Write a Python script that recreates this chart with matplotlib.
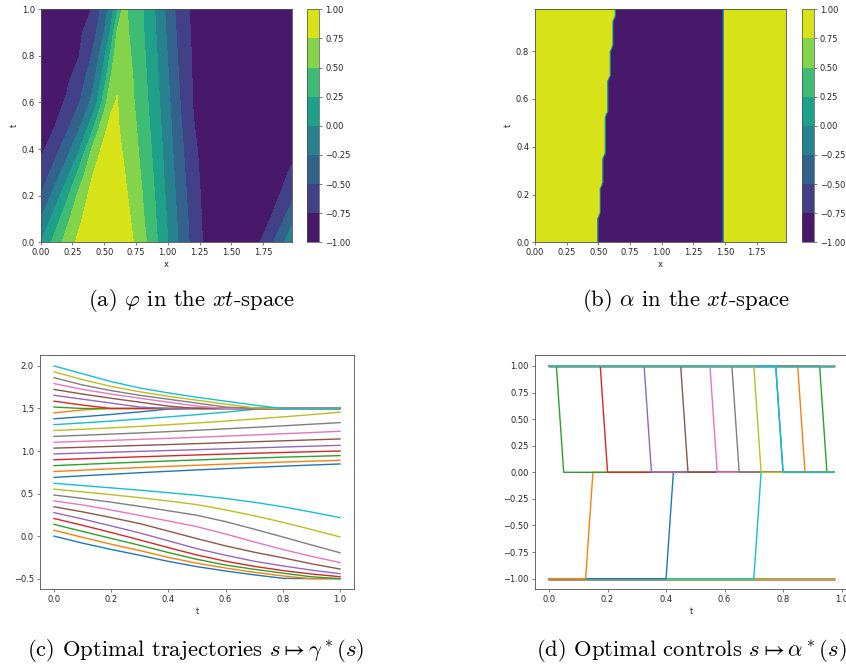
import numpy as np
import matplotlib
matplotlib.use('Agg')
from matplotlib import pyplot as plt

plt.rcParams['mathtext.fontset'] = 'cm'
plt.rcParams['font.size'] = 6
plt.rcParams['axes.linewidth'] = 0.6
plt.rcParams['axes.edgecolor'] = '0.3'
for ax_name in ('xtick', 'ytick'):
    plt.rcParams[ax_name + '.major.size'] = 2.2
    plt.rcParams[ax_name + '.major.width'] = 0.5
    plt.rcParams[ax_name + '.major.pad'] = 2
    plt.rcParams[ax_name + '.color'] = '0.3'
    plt.rcParams[ax_name + '.labelcolor'] = '0.15'
plt.rcParams['axes.labelpad'] = 2
plt.rcParams['axes.labelcolor'] = '0.15'

# ---- (a) phi over the xt-space on a coarse grid ----
phi_x = [0.0, 0.1, 0.2, 0.3, 0.4, 0.45, 0.5, 0.55, 0.6, 0.65, 0.7, 0.75, 0.8,
         0.9, 1.0, 1.1, 1.2, 1.3, 1.4, 1.5, 1.6, 1.7, 1.8, 1.9, 2.0]
phi_t = [0.0, 0.1, 0.2, 0.3, 0.4, 0.5, 0.6, 0.7, 0.8, 0.9, 1.0]
phi_values = [
    [0.0, 0.309, 0.588, 0.809, 0.951, 0.988, 1.0, 0.988, 0.951, 0.891, 0.809, 0.707, 0.588,
     0.309, 0.0, -0.309, -0.588, -0.809, -0.951, -1.0, -0.951, -0.809, -0.588, -0.309, 0.0],
    [-0.25, 0.071, 0.417, 0.697, 0.896, 0.948, 0.969, 0.961, 0.924, 0.859, 0.765, 0.652, 0.539,
     0.274, -0.031, -0.338, -0.61, -0.825, -0.948, -0.999, -0.981, -0.902, -0.764, -0.541, -0.25],
    [-0.5, -0.183, 0.173, 0.563, 0.829, 0.896, 0.927, 0.924, 0.887, 0.817, 0.716, 0.609, 0.502,
     0.241, -0.066, -0.371, -0.641, -0.834, -0.94, -0.993, -0.994, -0.95, -0.862, -0.719, -0.5],
    [-0.663, -0.431, -0.125, 0.3, 0.714, 0.825, 0.879, 0.888, 0.853, 0.773, 0.672, 0.572, 0.465,
     0.208, -0.097, -0.404, -0.673, -0.84, -0.934, -0.987, -1.0, -0.976, -0.918, -0.826, -0.663],
    [-0.806, -0.625, -0.368, -0.038, 0.5, 0.692, 0.815, 0.85, 0.818, 0.727, 0.633, 0.538, 0.429,
     0.176, -0.13, -0.439, -0.706, -0.84, -0.923, -0.975, -0.999, -0.993, -0.959, -0.897, -0.806],
    [-0.866, -0.776, -0.58, -0.309, 0.111, 0.429, 0.682, 0.805, 0.781, 0.687, 0.597, 0.507, 0.395,
     0.144, -0.161, -0.472, -0.739, -0.844, -0.919, -0.969, -0.996, -0.998, -0.977, -0.933, -0.866],
    [-0.904, -0.832, -0.729, -0.521, -0.205, 0.036, 0.393, 0.7, 0.765, 0.651, 0.565, 0.474, 0.364,
     0.11, -0.194, -0.508, -0.76, -0.848, -0.916, -0.964, -0.992, -1.0, -0.988, -0.956, -0.904],
    [-0.932, -0.874, -0.799, -0.643, -0.357, -0.15, 0.143, 0.5, 0.718, 0.674, 0.567, 0.441, 0.336,
     0.08, -0.228, -0.541, -0.771, -0.85, -0.913, -0.959, -0.988, -1.0, -0.994, -0.972, -0.932],
    [-0.948, -0.9, -0.837, -0.759, -0.5, -0.292, -0.028, 0.292, 0.665, 0.637, 0.523, 0.413, 0.311,
     0.051, -0.26, -0.574, -0.78, -0.854, -0.913, -0.957, -0.985, -0.999, -0.997, -0.98, -0.948],
    [-0.96, -0.92, -0.866, -0.798, -0.625, -0.458, -0.25, 0.036, 0.52, 0.615, 0.482, 0.384, 0.285,
     0.02, -0.296, -0.608, -0.789, -0.858, -0.913, -0.955, -0.983, -0.998, -0.999, -0.986, -0.96],
    [-0.967, -0.931, -0.883, -0.823, -0.75, -0.571, -0.375, -0.139, 0.179, 0.578, 0.453, 0.358, 0.263,
     -0.009, -0.331, -0.644, -0.798, -0.862, -0.915, -0.955, -0.982, -0.997, -1.0, -0.989, -0.967],
]

# ---- (b) alpha: +1 left of the switching front, -1 up to x = 1.5, +1 after ----
alpha_x = np.round(np.arange(100) * 0.02, 2)
alpha_t = np.round(np.arange(40) * 0.025, 3)
alpha_switch_x = [0.50] * 5 + [0.52] * 5 + [0.54] * 5 + [0.56] * 7 + \
                 [0.58] * 6 + [0.60] * 5 + [0.62] * 5 + [0.64] * 2
alpha_right_x = 1.5

# ---- (c) optimal trajectories, sampled every 0.1 ----
traj_t = [0.0, 0.1, 0.2, 0.3, 0.4, 0.5, 0.6, 0.7, 0.8, 0.9, 1.0]
traj_values = [
    [0.0, -0.083, -0.157, -0.225, -0.297, -0.359, -0.41, -0.455, -0.496, -0.5, -0.5],
    [0.069, -0.015, -0.095, -0.17, -0.25, -0.319, -0.375, -0.425, -0.468, -0.5, -0.5],
    [0.138, 0.055, -0.027, -0.108, -0.193, -0.273, -0.34, -0.39, -0.435, -0.478, -0.5],
    [0.207, 0.127, 0.043, -0.045, -0.135, -0.222, -0.295, -0.355, -0.405, -0.445, -0.477],
    [0.276, 0.201, 0.12, 0.037, -0.055, -0.148, -0.225, -0.295, -0.35, -0.4, -0.441],
    [0.345, 0.285, 0.218, 0.147, 0.059, -0.03, -0.115, -0.189, -0.255, -0.325, -0.387],
    [0.414, 0.366, 0.307, 0.243, 0.178, 0.111, 0.025, -0.068, -0.157, -0.238, -0.31],
    [0.483, 0.443, 0.399, 0.35, 0.298, 0.245, 0.17, 0.082, -0.01, -0.104, -0.195],
    [0.552, 0.52, 0.487, 0.452, 0.413, 0.37, 0.308, 0.24, 0.162, 0.078, -0.01],
    [0.621, 0.594, 0.567, 0.54, 0.51, 0.48, 0.442, 0.398, 0.345, 0.283, 0.217],
    [0.69, 0.709, 0.727, 0.745, 0.762, 0.778, 0.793, 0.808, 0.822, 0.835, 0.848],
    [0.759, 0.775, 0.791, 0.805, 0.82, 0.833, 0.846, 0.858, 0.87, 0.881, 0.891],
    [0.828, 0.843, 0.857, 0.87, 0.883, 0.895, 0.907, 0.917, 0.928, 0.937, 0.946],
    [0.897, 0.909, 0.921, 0.932, 0.943, 0.954, 0.964, 0.974, 0.983, 0.992, 1.0],
    [0.966, 0.976, 0.986, 0.996, 1.006, 1.016, 1.026, 1.036, 1.047, 1.057, 1.067],
    [1.034, 1.044, 1.055, 1.066, 1.076, 1.087, 1.098, 1.109, 1.12, 1.131, 1.142],
    [1.103, 1.114, 1.125, 1.137, 1.149, 1.162, 1.175, 1.189, 1.203, 1.217, 1.232],
    [1.172, 1.185, 1.199, 1.213, 1.228, 1.244, 1.261, 1.278, 1.296, 1.315, 1.334],
    [1.241, 1.256, 1.272, 1.29, 1.309, 1.33, 1.352, 1.376, 1.401, 1.428, 1.456],
    [1.31, 1.33, 1.352, 1.376, 1.401, 1.428, 1.457, 1.49, 1.5, 1.5, 1.5],
    [1.379, 1.403, 1.43, 1.46, 1.493, 1.5, 1.5, 1.5, 1.5, 1.5, 1.5],
    [1.448, 1.483, 1.5, 1.5, 1.5, 1.5, 1.5, 1.5, 1.5, 1.5, 1.5],
    [1.517, 1.5, 1.5, 1.5, 1.5, 1.5, 1.5, 1.5, 1.5, 1.5, 1.5],
    [1.586, 1.54, 1.5, 1.5, 1.5, 1.5, 1.5, 1.5, 1.5, 1.5, 1.5],
    [1.655, 1.609, 1.563, 1.517, 1.5, 1.5, 1.5, 1.5, 1.5, 1.5, 1.5],
    [1.724, 1.669, 1.62, 1.574, 1.528, 1.5, 1.5, 1.5, 1.5, 1.5, 1.5],
    [1.793, 1.724, 1.669, 1.62, 1.574, 1.528, 1.5, 1.5, 1.5, 1.5, 1.5],
    [1.862, 1.776, 1.71, 1.655, 1.609, 1.563, 1.517, 1.5, 1.5, 1.5, 1.5],
    [1.931, 1.839, 1.759, 1.696, 1.643, 1.597, 1.551, 1.508, 1.5, 1.5, 1.5],
    [2.0, 1.908, 1.816, 1.741, 1.683, 1.632, 1.586, 1.54, 1.5, 1.5, 1.5],
]

# ---- (d) optimal controls: start value, last time at it, value after ----
ctrl_t = np.round(np.arange(40) * 0.025, 3)
ctrl_start = [1] * 10 + [-1] * 12 + [1] * 8
ctrl_switch = [0.775, 0.85, 0.925] + [None] * 7 + [None] * 9 + \
              [0.7, 0.4, 0.125] + [0.025, 0.175, 0.325, 0.45, 0.55, 0.625, 0.7, 0.775]
ctrl_end = [0, 0, 0] + [1] * 7 + [-1] * 9 + [0] * 3 + [0] * 8

levels = np.linspace(-1, 1, 9)

fig = plt.figure(figsize=(8.46, 6.66), dpi=100)
W, H = 846.0, 666.0


def box(x0, y0, x1, y1):
    return [x0 / W, 1 - y1 / H, (x1 - x0) / W, (y1 - y0) / H]


# (a)
ax1 = fig.add_axes(box(40.7, 9.3, 292.3, 242.3))
cs1 = ax1.contourf(phi_x, phi_t, phi_values, levels=levels, cmap='viridis')
ax1.set_xlim(0, 1.98)
ax1.set_ylim(0, 1.0)
ax1.set_xticks([0, 0.25, 0.5, 0.75, 1.0, 1.25, 1.5, 1.75])
ax1.set_xlabel('x')
ax1.set_ylabel('t')
cax1 = fig.add_axes(box(307.3, 9.3, 319.3, 242.3))
cb1 = fig.colorbar(cs1, cax=cax1)
cb1.outline.set_linewidth(0.5)

# (b)
X, T = np.meshgrid(alpha_x, alpha_t)
switch = np.array(alpha_switch_x)[:, None]
alpha = np.where(X < switch - 1e-6, 1.0, np.where(X < alpha_right_x - 1e-6, -1.0, 1.0))
ax2 = fig.add_axes(box(535.0, 9.3, 786.0, 242.3))
cs2 = ax2.contourf(alpha_x, alpha_t, alpha, levels=levels, cmap='viridis')
ax2.set_xticks([0, 0.25, 0.5, 0.75, 1.0, 1.25, 1.5, 1.75])
ax2.set_xlabel('x')
ax2.set_ylabel('t')
cax2 = fig.add_axes(box(801.7, 9.3, 814.0, 242.3))
cb2 = fig.colorbar(cs2, cax=cax2)
cb2.outline.set_linewidth(0.5)

# (c)
ax3 = fig.add_axes(box(39.7, 355.3, 354.3, 589.3))
for vals in traj_values:
    ax3.plot(traj_t, vals, lw=1.0)
ax3.set_xlabel('t')
ax3.set_yticks([-0.5, 0.0, 0.5, 1.0, 1.5, 2.0])

# (d)
ax4 = fig.add_axes(box(534.8, 355.3, 848.5, 589.3))
for a0, ts, a1 in zip(ctrl_start, ctrl_switch, ctrl_end):
    if ts is None:
        vals = np.full(len(ctrl_t), float(a0))
    else:
        vals = np.where(ctrl_t <= ts + 1e-6, a0, a1).astype(float)
    ax4.plot(ctrl_t, vals, lw=1.0)
ax4.set_xlabel('t')
ax4.set_yticks([-1.0, -0.75, -0.5, -0.25, 0.0, 0.25, 0.5, 0.75, 1.0])

cap = dict(ha='center', va='center', fontsize=16.3, family='cmr10')
fig.text(191.5 / W, 1 - 301 / H, r'(a) $\varphi$ in the $xt$-space', **cap)
fig.text(686 / W, 1 - 301 / H, r'(b) $\alpha$ in the $xt$-space', **cap)
fig.text(196 / W, 1 - 650 / H, r'(c) Optimal trajectories $s \mapsto \gamma^*(s)$', **cap)
fig.text(691 / W, 1 - 650 / H, r'(d) Optimal controls $s \mapsto \alpha^*(s)$', **cap)

fig.savefig('out.png', dpi=100)
